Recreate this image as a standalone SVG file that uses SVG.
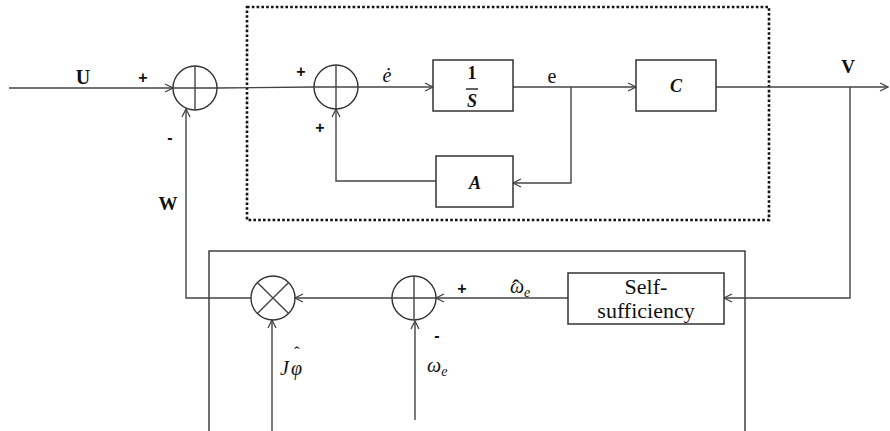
<svg xmlns="http://www.w3.org/2000/svg" width="890" height="431" viewBox="0 0 890 431">
<defs>
<marker id="arr" markerWidth="10" markerHeight="10" refX="9" refY="5" orient="auto" markerUnits="userSpaceOnUse">
<path d="M1,1 L9,5 L1,9" fill="none" stroke="#444" stroke-width="1.3"/>
</marker>
<style>
.ln{fill:none;stroke:#444;stroke-width:1.4}
.bx{fill:#fff;stroke:#333;stroke-width:1.5}
.ci{fill:none;stroke:#333;stroke-width:1.4}
.t{font-family:"Liberation Serif","Times New Roman",serif;fill:#111}
.b{font-weight:bold}
.i{font-style:italic}
.sg{font-family:"Liberation Sans",Arial,sans-serif;font-weight:bold;font-size:16px;fill:#111;text-anchor:middle}
</style>
</defs>
<rect width="890" height="431" fill="#fff"/>

<g id="frames">
<rect x="247" y="7" width="522" height="213" fill="none" stroke="#111" stroke-width="2.6" stroke-dasharray="2.6 2.2"/>
<rect x="209" y="251" width="536" height="200" fill="none" stroke="#222" stroke-width="1.3"/>
</g>

<g id="connectors">
<path class="ln" d="M9,88 L173,88" marker-end="url(#arr)"/>
<path class="ln" d="M217,88 L314,87"/>
<path class="ln" d="M358,87 L433,87" marker-end="url(#arr)"/>
<path class="ln" d="M513,87 L636,87" marker-end="url(#arr)"/>
<path class="ln" d="M571,87 L571,183 L513,183" marker-end="url(#arr)"/>
<path class="ln" d="M436,181 L336,181 L336,109" marker-end="url(#arr)"/>
<path class="ln" d="M716,87 L888,87" marker-end="url(#arr)"/>
<path class="ln" d="M850,87 L850,298 L724,298" marker-end="url(#arr)"/>
<path class="ln" d="M568,298 L436,298" marker-end="url(#arr)"/>
<path class="ln" d="M392,298 L295,298" marker-end="url(#arr)"/>
<path class="ln" d="M251,298 L186,298 L186,109" marker-end="url(#arr)"/>
<path class="ln" d="M272,431 L272,320" marker-end="url(#arr)"/>
<path class="ln" d="M415,420 L415,321" marker-end="url(#arr)"/>
</g>

<g id="sum1">
<circle class="ci" cx="195" cy="88" r="22"/>
<path class="ln" d="M173,88 H217 M195,66 V110"/>
</g>
<g id="sum2">
<circle class="ci" cx="336" cy="87" r="22"/>
<path class="ln" d="M314,87 H358 M336,65 V109"/>
</g>
<g id="integrator">
<rect class="bx" x="433" y="60" width="80" height="51"/>
<text class="t b" x="472" y="79" font-size="18" text-anchor="middle">1</text>
<path d="M466,89 H478" stroke="#222" stroke-width="1.4"/>
<text class="t b i" x="472" y="107" font-size="18" text-anchor="middle">S</text>
</g>
<g id="blockA">
<rect class="bx" x="436" y="156" width="77" height="51"/>
<text class="t b i" x="475" y="189" font-size="18" text-anchor="middle">A</text>
</g>
<g id="blockC">
<rect class="bx" x="636" y="60" width="80" height="51"/>
<text class="t b i" x="676" y="92" font-size="18" text-anchor="middle">C</text>
</g>
<g id="selfsufficiency">
<rect class="bx" x="568" y="273" width="156" height="51"/>
<text class="t" x="646" y="294" font-size="22" text-anchor="middle">Self-</text>
<text class="t" x="646" y="318" font-size="22" text-anchor="middle">sufficiency</text>
</g>
<g id="sum3">
<circle class="ci" cx="414" cy="298" r="22"/>
<path class="ln" d="M392,298 H436 M414,276 V320"/>
</g>
<g id="mult">
<circle class="ci" cx="273" cy="298" r="22"/>
<path class="ln" d="M257.4,282.4 L288.6,313.6 M288.6,282.4 L257.4,313.6"/>
</g>

<g id="labels">
<text class="t b" x="83" y="84" font-size="20" text-anchor="middle">U</text>
<text class="sg" x="143" y="83">+</text>
<text class="sg" x="170" y="143">-</text>
<text class="sg" x="301" y="77">+</text>
<text class="sg" x="320" y="133">+</text>
<text class="t i" x="387" y="82" font-size="20" text-anchor="middle">ė</text>
<text class="t" x="552" y="83" font-size="20" text-anchor="middle">e</text>
<text class="t b" x="848" y="73" font-size="19" text-anchor="middle">V</text>
<text class="t b" x="168" y="210" font-size="19" text-anchor="middle">W</text>
<text class="sg" x="462" y="294">+</text>
<text class="t i" font-size="20"><tspan x="510" y="293">ω</tspan><tspan x="512" y="296" font-size="24" font-style="normal">ˆ</tspan><tspan x="524" y="297" font-size="14">e</tspan></text>
<text class="sg" x="437" y="341">-</text>
<text class="t i" x="427" y="372" font-size="20">ω<tspan font-size="14" dy="4">e</tspan></text>
<text class="t i" font-size="20"><tspan x="280" y="375">J</tspan><tspan x="291" y="375">φ</tspan><tspan x="294" y="358" font-size="17" font-style="normal">ˆ</tspan></text>
</g>
</svg>
